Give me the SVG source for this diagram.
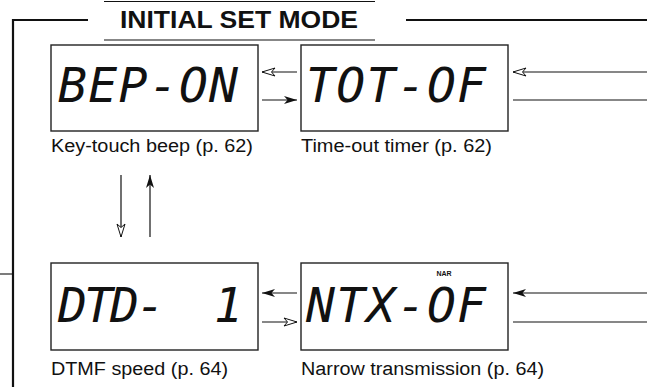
<svg xmlns="http://www.w3.org/2000/svg" width="647" height="387" viewBox="0 0 647 387">
<style>
.bg{fill:#ffffff}
.box{fill:#ffffff;stroke:#222222;stroke-width:1.4}
.lcd{font-family:"DejaVu Sans Mono",monospace;font-style:italic;font-size:48px;fill:#111111;white-space:pre}
.lbl{font-family:"Liberation Sans",Arial,sans-serif;font-size:18px;fill:#111111}
.head{font-family:"Liberation Sans",Arial,sans-serif;font-size:24px;font-weight:bold;fill:#111111}
.nar{font-family:"Liberation Sans",Arial,sans-serif;font-size:7px;font-weight:bold;fill:#111111}
.thin{stroke:#111111;stroke-width:1.1;fill:none}
.thick{stroke:#111111;stroke-width:2.2;fill:none}
.conn{stroke:#111111;stroke-width:1.2;fill:none}
.af{marker-end:url(#arrFill)}
.ao{marker-end:url(#arrOpen)}
</style>
<defs>
<marker id="arrFill" viewBox="-1 -5 15 10" refX="13" refY="0" markerWidth="15" markerHeight="10" markerUnits="userSpaceOnUse" orient="auto">
<path d="M0,-4 L13,0 L0,4 L3.5,0 Z" fill="#111111"/>
</marker>
<marker id="arrOpen" viewBox="-1 -5 15 10" refX="13" refY="0" markerWidth="15" markerHeight="10" markerUnits="userSpaceOnUse" orient="auto">
<path d="M0,-4 L13,0 L0,4 L3.5,0 Z" fill="#ffffff" stroke="#111111" stroke-width="1"/>
</marker>
</defs>
<rect class="bg" x="0" y="0" width="647" height="387"/>
<g id="frame">
<line class="thin" x1="104" y1="1.5" x2="375" y2="1.5"/>
<line class="thin" x1="104" y1="40" x2="375" y2="40"/>
<line class="thick" x1="13" y1="20" x2="88" y2="20"/>
<line class="thick" x1="406" y1="20" x2="647" y2="20"/>
<line class="thick" x1="13" y1="19" x2="13" y2="387"/>
<line class="thin" x1="0" y1="274" x2="13" y2="274"/>
<text class="head" x="120" y="28" textLength="238" lengthAdjust="spacingAndGlyphs">INITIAL SET MODE</text>
</g>
<g id="n-bep">
<rect class="box" x="51" y="45" width="207" height="86"/>
<text class="lcd" x="58" y="102" textLength="180" lengthAdjust="spacing">BEP-ON</text>
<text class="lbl" x="51" y="152" textLength="202" lengthAdjust="spacingAndGlyphs">Key-touch beep (p. 62)</text>
</g>
<g id="n-tot">
<rect class="box" x="301" y="45" width="207" height="86"/>
<text class="lcd" x="306" y="102" textLength="180" lengthAdjust="spacing">TOT-OF</text>
<text class="lbl" x="301" y="152" textLength="191" lengthAdjust="spacingAndGlyphs">Time-out timer (p. 62)</text>
</g>
<g id="n-dtd">
<rect class="box" x="51" y="263" width="207" height="87"/>
<text class="lcd" x="58" y="322" textLength="185" lengthAdjust="spacing" xml:space="preserve">DTD-  1</text>
<text class="lbl" x="51" y="375" textLength="177" lengthAdjust="spacingAndGlyphs">DTMF speed (p. 64)</text>
</g>
<g id="n-ntx">
<rect class="box" x="301" y="263" width="207" height="87"/>
<text class="nar" x="444" y="275.5" text-anchor="middle">NAR</text>
<text class="lcd" x="306" y="322" textLength="180" lengthAdjust="spacing">NTX-OF</text>
<text class="lbl" x="301" y="375" textLength="243" lengthAdjust="spacingAndGlyphs">Narrow transmission (p. 64)</text>
</g>
<g id="connectors">
<line class="conn ao" x1="297" y1="72" x2="262" y2="72"/>
<line class="conn af" x1="262" y1="100" x2="297" y2="100"/>
<line class="conn ao" x1="647" y1="72" x2="513" y2="72"/>
<line class="conn" x1="513" y1="100" x2="647" y2="100"/>
<line class="conn ao" x1="121" y1="175" x2="121" y2="237"/>
<line class="conn af" x1="150" y1="237" x2="150" y2="175"/>
<line class="conn af" x1="297" y1="293" x2="262" y2="293"/>
<line class="conn ao" x1="262" y1="322" x2="297" y2="322"/>
<line class="conn af" x1="647" y1="293" x2="513" y2="293"/>
<line class="conn" x1="513" y1="322" x2="647" y2="322"/>
</g>
</svg>
